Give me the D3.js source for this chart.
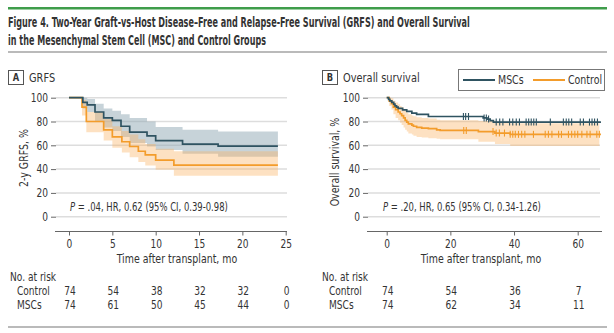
<!DOCTYPE html>
<html><head><meta charset="utf-8">
<script src="https://cdn.jsdelivr.net/npm/d3@7"></script>
<style>
body{margin:0;background:#fff;}
svg text{font-family:"Liberation Sans Narrow","DejaVu Sans Condensed","Roboto Condensed",sans-serif;fill:#333;}
</style></head>
<body><svg id="c" width="614" height="333"></svg>
<script>
// ---------- DATA ----------
const titleLines = ["Figure 4. Two-Year Graft-vs-Host Disease\u2013Free and Relapse-Free Survival (GRFS) and Overall Survival",
                    "in the Mesenchymal Stem Cell (MSC) and Control Groups"];
const groups = ["MSCs", "Control"];
// Panel A: GRFS
const grfsEnd = 24.1;
const grfsMscT   = [0, 1.6, 2.1, 3.0, 4.0, 5.0, 6.0, 7.0, 9.0, 10.0, 13.1, 17.2];
const grfsMscS   = [100, 96, 94, 88, 83, 81, 76, 71, 68, 64, 61, 59.3];
const grfsMscUp  = [100, 100, 99, 95, 91, 89, 86, 83, 80, 75.3, 73, 71.7];
const grfsMscLo  = [100, 91, 88, 80, 75, 72, 67, 62, 59, 56, 53, 50.3];
const grfsCtlT   = [0, 1.5, 2.0, 4.0, 5.0, 6.1, 7.0, 8.0, 8.8, 10.0, 12.1];
const grfsCtlS   = [100, 92, 80, 73, 67, 63, 59, 55, 52, 47.5, 43.3];
const grfsCtlUp  = [100, 98, 88, 82, 76, 72, 69, 65, 61, 57, 55];
const grfsCtlLo  = [100, 85, 71, 64, 58, 54, 50, 46, 43, 39.5, 34.5];
const grfsTicks  = [0, 5, 10, 15, 20, 25];
const grfsRiskCtl = [74, 54, 38, 32, 32, 0];
const grfsRiskMsc = [74, 61, 50, 45, 44, 0];
// Panel B: Overall survival
const osEnd = 67.3;
const osBandEnd = 66.8;
const osMscT = [0, 0.6, 1.0, 1.6, 2.2, 2.6, 3.1, 3.6, 5.0, 6.3, 7.9, 9.4, 13.1, 30.3, 31.5, 32.5, 33.5];
const osMscS = [100, 98.6, 97.3, 96, 94.6, 93.2, 92, 91, 89.7, 88.5, 87, 86, 84.2, 83, 82, 80.8, 79.5];
const osCtlT = [0, 0.8, 1.5, 2.1, 2.8, 3.6, 4.2, 4.7, 5.3, 5.8, 6.3, 6.8, 7.9, 8.4, 9.4, 11, 13.1, 15.7, 16.8, 28.8, 34, 38.8];
const osCtlS = [100, 97, 95, 92, 90, 88, 86.5, 85, 83, 81, 79.5, 78, 77, 76, 75, 74.5, 74, 73, 72.5, 71.5, 70.3, 69.2];
const osCtlUp = [100, 100, 99.5, 97.5, 96, 94.5, 93, 92, 90.5, 89, 87.5, 86, 85, 84.5, 83.5, 83, 82.5, 81.5, 81, 80.5, 79.5, 78.5];
const osCtlLo = [100, 93, 90, 86, 83, 81, 79, 77, 75, 73, 71.5, 70, 69, 68, 67, 66.5, 66, 65.5, 65, 63, 61, 59.5];
const osMscCens = [24.1, 24.8, 25.7, 30.6, 31.3, 32.0, 34.4, 35.5, 36.5, 38.6, 39.6, 40.7, 41.7, 43.8, 44.6, 45.4, 46.2, 47.0, 51.4, 55.5, 56.4, 57.2, 58.1, 60.8, 61.8, 63.7, 64.5, 65.3, 66.2];
const osCtlCens = [24.2, 25.0, 33.4, 34.4, 35.4, 37.0, 38.8, 39.6, 40.4, 41.4, 42.4, 43.4, 46.1, 49.8, 50.8, 51.9, 54.0, 54.9, 57.1, 58.1, 59.1, 60.0, 61.3, 62.9, 63.9, 66.0, 66.8];
const osTicks = [0, 20, 40, 60];
const osRiskCtl = [74, 54, 36, 7];
const osRiskMsc = [74, 62, 34, 11];
const yTicks = [0, 20, 40, 60, 80, 100];
const annotA = [".04", "0.62", "0.39-0.98"];
const annotB = [".20", "0.65", "0.34-1.26"];

// ---------- STYLE ----------
const C_MSC = "#2f5361", C_CTL = "#f39c2b";
const BAND_MSC = "#8fa8b4", BAND_CTL = "#fbb567";
const GRID = "#dddddd", TXT = "#333";
const K = 0.84; // horizontal condensation of text

const svg = d3.select("#c");

// scale a text horizontally (about its x anchor) so that it is condensed
function condense(node, k) {
  const x = +node.getAttribute("x") || 0;
  const t = node.getAttribute("transform") || "";
  node.setAttribute("transform", `${t} translate(${x},0) scale(${k},1) translate(${-x},0)`);
  node.classList.add("done");
}
function fitWidth(node, w) { condense(node, w / node.getComputedTextLength()); }

// top rules & title
svg.append("rect").attr("x", 8).attr("y", 7).attr("width", 599).attr("height", 2.5).attr("fill", "#3f9d4b");
[[titleLines[0], 462], [titleLines[1], 258]].forEach(([s, w], i) => {
  const t = svg.append("text").attr("x", 8).attr("y", 27 + i * 18)
    .style("font-size", "14px").style("font-weight", "bold").attr("fill", "#3a3a3a").text(s);
  fitWidth(t.node(), w);
});
svg.append("rect").attr("x", 8).attr("y", 51.5).attr("width", 599).attr("height", 1).attr("fill", "#777");
svg.append("rect").attr("x", 8).attr("y", 326.5).attr("width", 599).attr("height", 1).attr("fill", "#777");

const y = d3.scaleLinear().domain([0, 100]).range([216.7, 97.7]);

function stepPts(T, V, end) { const p = T.map((t, i) => [t, V[i]]); p.push([end, V[V.length - 1]]); return p; }
function bandPts(T, U, L, end) { const p = T.map((t, i) => [t, U[i], L[i]]); p.push([end, U[U.length - 1], L[L.length - 1]]); return p; }

function panel(cfg) {
  const g = svg.append("g");
  const x = cfg.x;
  // grid
  g.selectAll("line.grid").data(yTicks).join("line")
    .attr("x1", cfg.gx0).attr("x2", cfg.gx1).attr("y1", d => y(d)).attr("y2", d => y(d))
    .attr("stroke", GRID).attr("stroke-width", 1.5);
  // y axis
  const ya = g.append("g").attr("transform", `translate(${cfg.gx0},0)`)
    .call(d3.axisLeft(y).tickValues(yTicks).tickSize(5).tickPadding(3));
  ya.select(".domain").remove();
  ya.selectAll("line").attr("stroke", "#666");
  ya.selectAll("text").style("font-size", "12px").attr("fill", TXT).style("font-family", null);
  // x axis
  const xa = g.append("g").attr("transform", `translate(0,231.5)`)
    .call(d3.axisBottom(x).tickValues(cfg.ticks).tickSize(4).tickPadding(4));
  xa.select(".domain").remove();
  xa.append("line").attr("x1", cfg.gx0 - 1).attr("x2", cfg.ax1).attr("stroke", "#666");
  xa.selectAll("line").attr("stroke", "#666");
  xa.selectAll("text").style("font-size", "12px").attr("fill", TXT).style("font-family", null);
  // axis titles
  svg.append("text").attr("x", cfg.xtx).attr("y", 263.5).attr("text-anchor", "middle")
    .style("font-size", "12.5px").text("Time after transplant, mo");
  svg.append("text").attr("transform", `translate(${cfg.ytx},${cfg.yty}) rotate(-90)`).attr("text-anchor", "middle")
    .style("font-size", "12.5px").text(cfg.ytitle);
  // bands
  const area = d3.area().curve(d3.curveStepAfter).x(d => x(d[0])).y0(d => y(d[2])).y1(d => y(d[1]));
  cfg.bands.forEach(b => g.append("path").attr("d", area(b.pts)).attr("fill", b.fill).attr("fill-opacity", b.op));
  // lines
  const line = d3.line().curve(d3.curveStepAfter).x(d => x(d[0])).y(d => y(d[1]));
  cfg.lines.forEach(l => g.append("path").attr("d", line(l.pts)).attr("fill", "none").attr("stroke", l.color).attr("stroke-width", 1.7));
  // censor marks
  (cfg.cens || []).forEach(c => {
    const pts = c.line;
    const val = t => { let v = pts[0][1]; for (const p of pts) if (p[0] <= t) v = p[1]; return v; };
    g.selectAll(null).data(c.times).join("line")
      .attr("x1", d => x(d)).attr("x2", d => x(d)).attr("y1", d => y(val(d)) - 3.5).attr("y2", d => y(val(d)) + 3.5)
      .attr("stroke", c.color).attr("stroke-width", 1.1);
  });
  // annotation
  const an = svg.append("text").attr("x", cfg.annX).attr("y", 211).style("font-size", "12.5px");
  an.append("tspan").style("font-style", "italic").text("P");
  an.append("tspan").text(` = ${cfg.annot[0]}, HR, ${cfg.annot[1]} (95% CI, ${cfg.annot[2]})`);
  fitWidth(an.node(), 158);
  // panel label
  svg.append("rect").attr("x", cfg.lblX + 0.5).attr("y", 70.5).attr("width", 15).attr("height", 14)
    .attr("fill", "#fff").attr("stroke", "#555");
  svg.append("text").attr("x", cfg.lblX + 8).attr("y", 81.5).attr("text-anchor", "middle")
    .style("font-size", "11px").style("font-weight", "bold").text(cfg.letter);
  svg.append("text").attr("x", cfg.lblX + 21).attr("y", 82).style("font-size", "13px").text(cfg.ptitle);
  // at-risk table
  svg.append("text").attr("x", cfg.riskX).attr("y", 281).style("font-size", "12px").text("No. at risk");
  [["Control", cfg.riskCtl, 295.5], ["MSCs", cfg.riskMsc, 309.5]].forEach(([nm, arr, yy]) => {
    svg.append("text").attr("x", cfg.riskX + 7).attr("y", yy).style("font-size", "12px").text(nm);
    svg.selectAll(null).data(arr).join("text").attr("x", (d, i) => x(cfg.ticks[i]) + 1).attr("y", yy)
      .attr("text-anchor", "middle").style("font-size", "12px").text(d => d);
  });
}

const xA = d3.scaleLinear().domain([0, 25]).range([69, 285.7]);
panel({
  x: xA, gx0: 56, gx1: 287, ax1: 287, ticks: grfsTicks, ytitle: "2-y GRFS, %", ytx: 28, yty: 158, xtx: 177,
  bands: [
    { pts: bandPts(grfsMscT, grfsMscUp, grfsMscLo, grfsEnd), fill: BAND_MSC, op: 0.5 },
    { pts: bandPts(grfsCtlT, grfsCtlUp, grfsCtlLo, grfsEnd), fill: BAND_CTL, op: 0.4 }
  ],
  lines: [
    { pts: stepPts(grfsCtlT, grfsCtlS, grfsEnd), color: C_CTL },
    { pts: stepPts(grfsMscT, grfsMscS, grfsEnd), color: C_MSC }
  ],
  annX: 70, annot: annotA, lblX: 8, letter: "A", ptitle: "GRFS",
  riskX: 10, riskCtl: grfsRiskCtl, riskMsc: grfsRiskMsc
});

const xB = d3.scaleLinear().domain([0, 60]).range([386.7, 577.7]);
const osMscLine = stepPts(osMscT, osMscS, osEnd), osCtlLine = stepPts(osCtlT, osCtlS, osEnd);
panel({
  x: xB, gx0: 368, gx1: 600, ax1: 602, ticks: osTicks, ytitle: "Overall survival, %", ytx: 339, yty: 162, xtx: 481,
  bands: [{ pts: bandPts(osCtlT, osCtlUp, osCtlLo, osBandEnd), fill: BAND_CTL, op: 0.4 }],
  lines: [{ pts: osCtlLine, color: C_CTL }, { pts: osMscLine, color: C_MSC }],
  cens: [{ line: osCtlLine, times: osCtlCens, color: C_CTL }, { line: osMscLine, times: osMscCens, color: C_MSC }],
  annX: 383, annot: annotB, lblX: 322, letter: "B", ptitle: "Overall survival",
  riskX: 322, riskCtl: osRiskCtl, riskMsc: osRiskMsc
});

// legend
const lg = svg.append("g");
lg.append("rect").attr("x", 458.5).attr("y", 69.5).attr("width", 146).attr("height", 21).attr("fill", "#fff").attr("stroke", "#777");
[[groups[0], C_MSC, 463], [groups[1], C_CTL, 533]].forEach(([nm, col, lx]) => {
  lg.append("line").attr("x1", lx).attr("x2", lx + 32).attr("y1", 80).attr("y2", 80).attr("stroke", col).attr("stroke-width", 2);
  lg.append("text").attr("x", lx + 35).attr("y", 84.5).style("font-size", "12.5px").text(nm);
});

// condense all remaining text horizontally (reference uses a condensed face)
svg.selectAll("text").each(function () {
  if (this.classList.contains("done")) return;
  condense(this, K);
});
</script></body></html>
